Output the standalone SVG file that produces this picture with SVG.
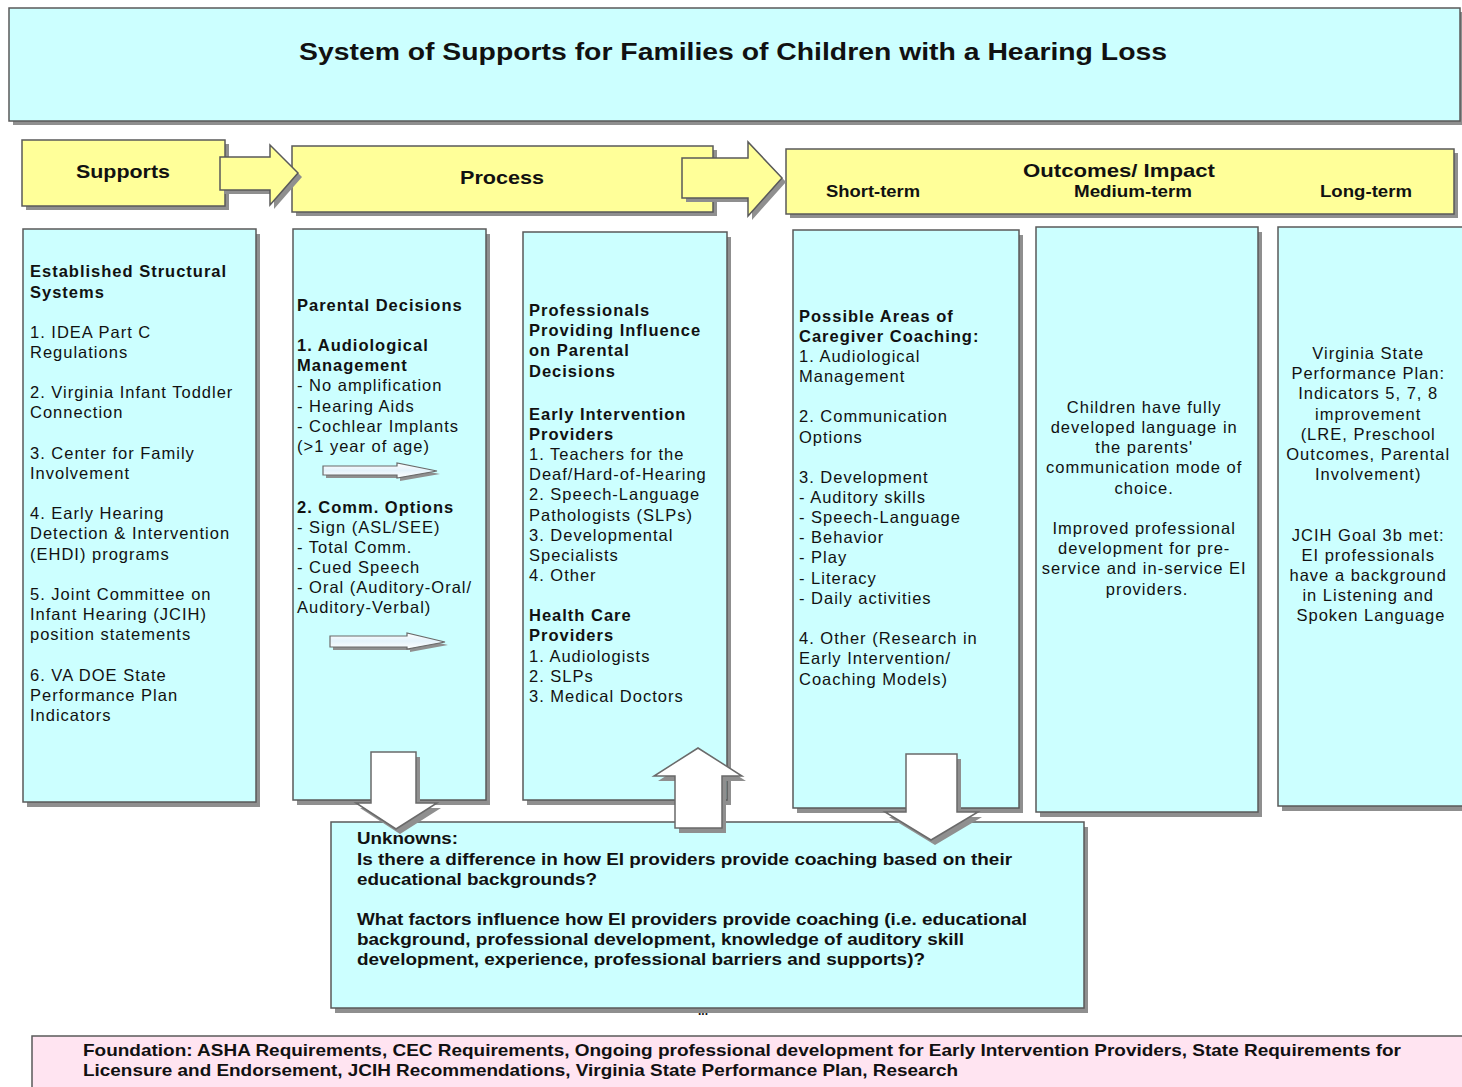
<svg xmlns="http://www.w3.org/2000/svg" width="1462" height="1087" viewBox="0 0 1462 1087">
<defs>
<style>
.box{stroke:#5a5a5a;stroke-width:1.5}
.cy{fill:#ccffff}
.ye{fill:#ffff99}
.pk{fill:#ffe4f1}
.sh{fill:#8f8f8f}
.wa{fill:#ffffff;stroke:#6a6a6a;stroke-width:1.5}
.sa{fill:url(#g1);stroke:#6a6a6a;stroke-width:1.2}
text{font-family:"Liberation Sans",Arial,sans-serif;fill:#111}
.t{font-size:16.5px;letter-spacing:1px}
.b{font-weight:bold}
.c{text-anchor:middle}
.h{font-size:19px;font-weight:bold;text-anchor:middle}
.hs{font-size:16.5px;font-weight:bold;text-anchor:middle}
.u{font-size:16.5px;font-weight:bold}
</style>
<linearGradient id="g1" x1="0" y1="0" x2="0" y2="1">
<stop offset="0" stop-color="#ffffff"/>
<stop offset="0.5" stop-color="#e4f2fa"/>
<stop offset="1" stop-color="#ffffff"/>
</linearGradient>
</defs>
<rect width="1462" height="1087" fill="#ffffff"/>

<g id="title">
<rect class="sh" x="13" y="12" width="1451" height="113"/>
<rect class="box cy" x="9" y="8" width="1451" height="113"/>
<text x="733" y="60" font-size="23" font-weight="bold" text-anchor="middle" textLength="868" lengthAdjust="spacingAndGlyphs">System of Supports for Families of Children with a Hearing Loss</text>
</g>

<g id="supports-header">
<rect class="sh" x="26" y="144" width="203" height="66"/>
<rect class="box ye" x="22" y="140" width="203" height="66"/>
<text class="h" x="123" y="178" textLength="94" lengthAdjust="spacingAndGlyphs">Supports</text>
</g>

<g id="process-header">
<rect class="sh" x="296" y="150" width="421" height="66"/>
<rect class="box ye" x="292" y="146" width="421" height="66"/>
<text class="h" x="502" y="184" textLength="84" lengthAdjust="spacingAndGlyphs">Process</text>
</g>

<g id="outcomes-header">
<rect class="sh" x="790" y="153" width="668" height="65"/>
<rect class="box ye" x="786" y="149" width="668" height="65"/>
<text class="h" x="1119" y="177" textLength="192" lengthAdjust="spacingAndGlyphs">Outcomes/ Impact</text>
<text class="hs" x="873" y="197" textLength="94" lengthAdjust="spacingAndGlyphs">Short-term</text>
<text class="hs" x="1133" y="197" textLength="118" lengthAdjust="spacingAndGlyphs">Medium-term</text>
<text class="hs" x="1366" y="197" textLength="92" lengthAdjust="spacingAndGlyphs">Long-term</text>
</g>

<g id="connectors">
<polygon class="sh" points="224,161 274,161 274,149 302,177 274,209 274,194 224,194"/>
<polygon class="box ye" points="220,157 270,157 270,145 298,173 270,205 270,190 220,190"/>
<polygon class="sh" points="686,162 752,162 752,146 786,182 752,220 752,202 686,202"/>
<polygon class="box ye" points="682,158 748,158 748,142 782,178 748,216 748,198 682,198"/>
</g>

<g id="col-supports">
<rect class="sh" x="27" y="234" width="233" height="573"/>
<rect class="box cy" x="23" y="229" width="233" height="573"/>
<text class="t" x="30">
<tspan class="b" x="30" y="277">Established Structural</tspan>
<tspan class="b" x="30" y="298">Systems</tspan>
<tspan x="30" y="338">1. IDEA Part C</tspan>
<tspan x="30" y="358">Regulations</tspan>
<tspan x="30" y="398">2. Virginia Infant Toddler</tspan>
<tspan x="30" y="418">Connection</tspan>
<tspan x="30" y="459">3. Center for Family</tspan>
<tspan x="30" y="479">Involvement</tspan>
<tspan x="30" y="519">4. Early Hearing</tspan>
<tspan x="30" y="539">Detection &amp; Intervention</tspan>
<tspan x="30" y="560">(EHDI) programs</tspan>
<tspan x="30" y="600">5. Joint Committee on</tspan>
<tspan x="30" y="620">Infant Hearing (JCIH)</tspan>
<tspan x="30" y="640">position statements</tspan>
<tspan x="30" y="681">6. VA DOE State</tspan>
<tspan x="30" y="701">Performance Plan</tspan>
<tspan x="30" y="721">Indicators</tspan>
</text>
</g>

<g id="col-parental">
<rect class="sh" x="297" y="234" width="193" height="571"/>
<rect class="box cy" x="293" y="229" width="193" height="571"/>
<text class="t">
<tspan class="b" x="297" y="311">Parental Decisions</tspan>
<tspan class="b" x="297" y="351">1. Audiological</tspan>
<tspan class="b" x="297" y="371">Management</tspan>
<tspan x="297" y="391">- No amplification</tspan>
<tspan x="297" y="412">- Hearing Aids</tspan>
<tspan x="297" y="432">- Cochlear Implants</tspan>
<tspan x="297" y="452">(&gt;1 year of age)</tspan>
<tspan class="b" x="297" y="513">2. Comm. Options</tspan>
<tspan x="297" y="533">- Sign (ASL/SEE)</tspan>
<tspan x="297" y="553">- Total Comm.</tspan>
<tspan x="297" y="573">- Cued Speech</tspan>
<tspan x="297" y="593">- Oral (Auditory-Oral/</tspan>
<tspan x="297" y="613">Auditory-Verbal)</tspan>
</text>
<polygon class="sh" points="326,469 400,469 400,466 440,474 400,481 400,478 326,478"/>
<polygon class="sa" points="323,466 397,466 397,463 437,471 397,478 397,475 323,475"/>
<polygon class="sh" points="333,639 410,639 410,636 448,645 410,652 410,650 333,650"/>
<polygon class="sa" points="330,636 407,636 407,633 445,642 407,649 407,647 330,647"/>
</g>

<g id="col-professionals">
<rect class="sh" x="527" y="237" width="204" height="568"/>
<rect class="box cy" x="523" y="232" width="204" height="568"/>
<text class="t">
<tspan class="b" x="529" y="316">Professionals</tspan>
<tspan class="b" x="529" y="336">Providing Influence</tspan>
<tspan class="b" x="529" y="356">on Parental</tspan>
<tspan class="b" x="529" y="377">Decisions</tspan>
<tspan class="b" x="529" y="420">Early Intervention</tspan>
<tspan class="b" x="529" y="440">Providers</tspan>
<tspan x="529" y="460">1. Teachers for the</tspan>
<tspan x="529" y="480">Deaf/Hard-of-Hearing</tspan>
<tspan x="529" y="500">2. Speech-Language</tspan>
<tspan x="529" y="521">Pathologists (SLPs)</tspan>
<tspan x="529" y="541">3. Developmental</tspan>
<tspan x="529" y="561">Specialists</tspan>
<tspan x="529" y="581">4. Other</tspan>
<tspan class="b" x="529" y="621">Health Care</tspan>
<tspan class="b" x="529" y="641">Providers</tspan>
<tspan x="529" y="662">1. Audiologists</tspan>
<tspan x="529" y="682">2. SLPs</tspan>
<tspan x="529" y="702">3. Medical Doctors</tspan>
</text>
</g>

<g id="col-short-term">
<rect class="sh" x="797" y="235" width="226" height="578"/>
<rect class="box cy" x="793" y="230" width="226" height="578"/>
<text class="t">
<tspan class="b" x="799" y="322">Possible Areas of</tspan>
<tspan class="b" x="799" y="342">Caregiver Coaching:</tspan>
<tspan x="799" y="362">1. Audiological</tspan>
<tspan x="799" y="382">Management</tspan>
<tspan x="799" y="422">2. Communication</tspan>
<tspan x="799" y="443">Options</tspan>
<tspan x="799" y="483">3. Development</tspan>
<tspan x="799" y="503">- Auditory skills</tspan>
<tspan x="799" y="523">- Speech-Language</tspan>
<tspan x="799" y="543">- Behavior</tspan>
<tspan x="799" y="563">- Play</tspan>
<tspan x="799" y="584">- Literacy</tspan>
<tspan x="799" y="604">- Daily activities</tspan>
<tspan x="799" y="644">4. Other (Research in</tspan>
<tspan x="799" y="664">Early Intervention/</tspan>
<tspan x="799" y="685">Coaching Models)</tspan>
</text>
</g>

<g id="col-medium-term">
<rect class="sh" x="1040" y="232" width="222" height="585"/>
<rect class="box cy" x="1036" y="227" width="222" height="585"/>
<text class="t c">
<tspan x="1147" y="413">Children have fully</tspan>
<tspan x="1147" y="433">developed language in</tspan>
<tspan x="1147" y="453">the parents'</tspan>
<tspan x="1147" y="473">communication mode of</tspan>
<tspan x="1147" y="494">choice.</tspan>
<tspan x="1147" y="534">Improved professional</tspan>
<tspan x="1147" y="554">development for pre-</tspan>
<tspan x="1147" y="574">service and in-service EI</tspan>
<tspan x="1147" y="595">providers.</tspan>
</text>
</g>

<g id="col-long-term">
<rect class="sh" x="1282" y="232" width="190" height="579"/>
<rect class="box cy" x="1278" y="227" width="190" height="579"/>
<text class="t c">
<tspan x="1371" y="359">Virginia State</tspan>
<tspan x="1371" y="379">Performance Plan:</tspan>
<tspan x="1371" y="399">Indicators 5, 7, 8</tspan>
<tspan x="1371" y="420">improvement</tspan>
<tspan x="1371" y="440">(LRE, Preschool</tspan>
<tspan x="1371" y="460">Outcomes, Parental</tspan>
<tspan x="1371" y="480">Involvement)</tspan>
<tspan x="1371" y="541">JCIH Goal 3b met:</tspan>
<tspan x="1371" y="561">EI professionals</tspan>
<tspan x="1371" y="581">have a background</tspan>
<tspan x="1371" y="601">in Listening and</tspan>
<tspan x="1371" y="621">Spoken Language</tspan>
</text>
</g>

<g id="unknowns">
<rect class="sh" x="335" y="827" width="753" height="186"/>
<rect class="box cy" x="331" y="822" width="753" height="186"/>
</g>

<g id="block-arrows">
<polygon class="sh" points="375,757 420,757 420,808 441,808 400,834 360,808 375,808"/>
<polygon class="wa" points="371,752 416,752 416,803 437,803 396,829 356,803 371,803"/>
<polygon class="sh" points="679,833 726,833 726,781 746,781 702,753 658,781 679,781"/>
<polygon class="wa" points="675,828 722,828 722,776 742,776 698,748 654,776 675,776"/>
<polygon class="sh" points="910,759 961,759 961,817 982,817 935,845 889,817 910,817"/>
<polygon class="wa" points="906,754 957,754 957,812 978,812 931,840 885,812 906,812"/>
</g>

<g id="unknowns-text">
<text class="u" x="357" y="844" textLength="101" lengthAdjust="spacingAndGlyphs">Unknowns:</text>
<text class="u" x="357" y="865" textLength="655" lengthAdjust="spacingAndGlyphs">Is there a difference in how EI providers provide coaching based on their</text>
<text class="u" x="357" y="885" textLength="240" lengthAdjust="spacingAndGlyphs">educational backgrounds?</text>
<text class="u" x="357" y="925" textLength="670" lengthAdjust="spacingAndGlyphs">What factors influence how EI providers provide coaching (i.e. educational</text>
<text class="u" x="357" y="945" textLength="607" lengthAdjust="spacingAndGlyphs">background, professional development, knowledge of auditory skill</text>
<text class="u" x="357" y="965" textLength="568" lengthAdjust="spacingAndGlyphs">development, experience, professional barriers and supports)?</text>
<text x="703" y="1015" font-size="12" font-weight="bold" text-anchor="middle">...</text>
</g>

<g id="foundation">
<rect class="sh" x="36" y="1040" width="1440" height="60"/>
<rect class="box pk" x="32" y="1036" width="1440" height="60"/>
<text class="u" x="83" y="1056" textLength="1318" lengthAdjust="spacingAndGlyphs">Foundation: ASHA Requirements, CEC Requirements, Ongoing professional development for Early Intervention Providers, State Requirements for</text>
<text class="u" x="83" y="1076" textLength="875" lengthAdjust="spacingAndGlyphs">Licensure and Endorsement, JCIH Recommendations, Virginia State Performance Plan, Research</text>
</g>
</svg>
